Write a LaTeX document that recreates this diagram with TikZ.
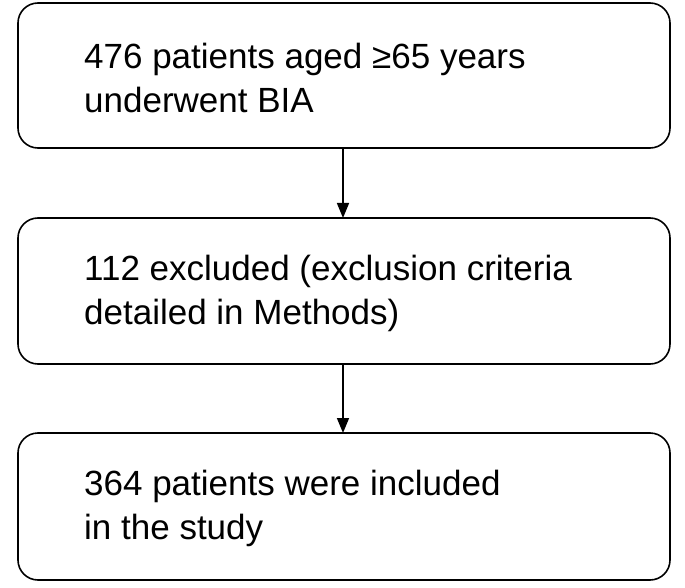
\documentclass[tikz,border=0pt]{standalone}
\usepackage{fontspec}
\setmainfont{Liberation Sans}
\usetikzlibrary{arrows.meta}
\begin{document}
\begin{tikzpicture}[x=1pt,y=-1pt,
  box/.style={draw,line width=1.6pt,rounded corners=20pt},
  lbl/.style={anchor=west,align=left,font=\fontsize{35}{44}\selectfont,inner sep=0pt},
  arr/.style={line width=1.6pt,-{Triangle[length=15pt,width=12pt]}}]
\useasboundingbox (0,0) rectangle (685,588);
\draw[box] (18,3) rectangle (670,148);
\draw[box] (18,218) rectangle (670,364);
\draw[box] (18,433) rectangle (670,580);
\coordinate (b1) at (343,148); \coordinate (t2) at (343,218);
\coordinate (b2) at (343,364); \coordinate (t3) at (343,433);
\node[lbl] (l1) at (84,78) {476 patients aged ≥65 years\\underwent BIA};
\node[lbl] (l2) at (84,293) {112 excluded (exclusion criteria\\detailed in Methods)};
\node[lbl] (l3) at (84,508) {364 patients were included\\in the study};
\draw[arr] (b1) -- (t2);
\draw[arr] (b2) -- (t3);
\end{tikzpicture}
\end{document}
